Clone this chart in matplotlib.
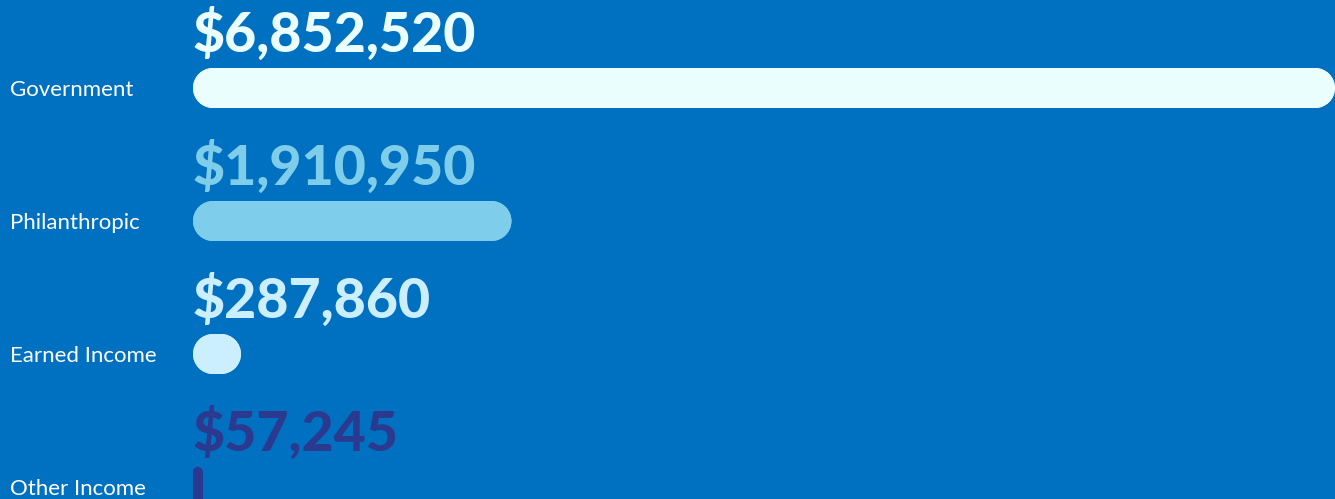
import matplotlib
matplotlib.use("Agg")
import matplotlib.pyplot as plt
from matplotlib.patches import Rectangle, Ellipse
from matplotlib.transforms import blended_transform_factory

categories = ["Government", "Philanthropic", "Earned Income", "Other Income"]
values = [6852520, 1910950, 287860, 57245]
value_labels = ["$6,852,520", "$1,910,950", "$287,860", "$57,245"]
colors = ["#EBFEFE", "#7ECDEA", "#CCEFFF", "#2B3A8F"]
bg = "#0070C0"

W, H = 1335, 499
dpi = 100
fig = plt.figure(figsize=(W / dpi, H / dpi), dpi=dpi, facecolor=bg)

x0_px = 193
ax = fig.add_axes([x0_px / W, 0, (W - x0_px) / W, 1])
ax.set_facecolor(bg)
ax.set_xlim(0, max(values))
row_px = 133.0
first_center = 88.0
ax.set_ylim((H - first_center) / row_px, -first_center / row_px)
ax.axis("off")

px_per_x = (W - x0_px) / max(values)
bar_h = 40.0 / row_px
r_px = 20.0

trans_lbl = blended_transform_factory(fig.transFigure, ax.transData)


def pill(ax, v, yc, color):
    w_px = v * px_per_x
    rr = min(r_px, w_px / 2.0)
    rx = rr / px_per_x
    ry = rr / row_px
    top = yc - bar_h / 2
    bot = yc + bar_h / 2
    kw = dict(facecolor=color, edgecolor="none", clip_on=False, antialiased=True)
    # body
    ax.add_patch(Rectangle((rx, top), max(v - 2 * rx, 0), bar_h, **kw))
    ax.add_patch(Rectangle((0, top + ry), v, max(bar_h - 2 * ry, 0), **kw))
    # corners
    for cx in (rx, v - rx):
        for cy in (top + ry, bot - ry):
            ax.add_patch(Ellipse((cx, cy), 2 * rx, 2 * ry, **kw))


for i, (cat, v, lab, c) in enumerate(zip(categories, values, value_labels, colors)):
    pill(ax, v, i, c)
    ax.text(0, i - 36.0 / row_px, lab, color=c, fontsize=40, fontweight=900,
            family="Lato", ha="left", va="baseline")
    ax.text(10 / W, i, cat, transform=trans_lbl, color="white", fontsize=16,
            family="Lato", ha="left", va="center_baseline")

fig.savefig("out.png", dpi=dpi, facecolor=bg)
